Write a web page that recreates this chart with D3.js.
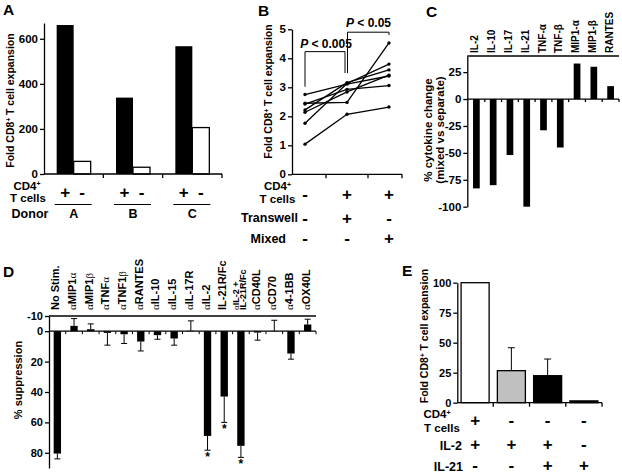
<!DOCTYPE html>
<html><head><meta charset="utf-8">
<script src="https://cdn.jsdelivr.net/npm/d3@7"></script>
<style>
body{margin:0;background:#fff}
svg{font-family:"Liberation Sans",Arial,Helvetica,sans-serif;font-weight:bold}
svg text{font-weight:bold}
</style></head><body>
<svg id="c" width="622" height="475"></svg>
<script>
// ---------- Panel A ----------
const donors = ["A","B","C"];
const aWithCD4 = [661, 339, 567];
const aWithoutCD4 = [56, 30, 206];
const aTicks = [0, 200, 400, 600];
const aSigns = ["+", "-"];
// ---------- Panel B ----------
const bConditions = ["separate", "transwell", "mixed"];
const bSeries = [
  [2.75, 3.11, 3.39],
  [2.45, 2.48, 4.53],
  [2.42, 2.93, 3.06],
  [2.22, 3.16, 3.60],
  [2.14, 2.84, 3.42],
  [1.76, 3.13, 3.80],
  [1.04, 2.07, 2.32]
];
const bTicks = [0, 1, 2, 3, 4, 5];
const bCD4 = ["-", "+", "+"];
const bTranswell = ["-", "+", "-"];
const bMixed = ["-", "-", "+"];
// ---------- Panel C ----------
const cytokines = ["IL-2","IL-10","IL-17","IL-21","TNF-α","TNF-β","MIP1-α","MIP1-β","RANTES"];
const cytokineChange = [-83, -80, -52, -100, -29, -45, 33, 30, 12];
const cTicks = [25, 0, -25, -50, -75, -100];
// ---------- Panel D ----------
const treatments = ["No Stim.","αMIP1α","αMIP1β","αTNFα","αTNF1β","αRANTES","αIL-10","αIL-15","αIL-17R","αIL-2","IL-21R/Fc","αIL-2 +|IL-21R/Fc","αCD40L","αCD70","α4-1BB","αOX40L"];
const suppression = [80.5, -3.5, -1.3, 1.1, 2.0, 6.8, 2.6, 4.8, -0.3, 68.9, 43, 75.4, 0.9, -0.2, 14.7, -4.4];
const suppressionErr = [3.5, 4.8, 3.5, 8.1, 6.1, 6.2, 2.7, 4.4, 6.5, 9.4, 17, 7.6, 5.0, 7.0, 3.7, 3.5];
const dSignificant = ["αIL-2", "IL-21R/Fc", "αIL-2 +|IL-21R/Fc"];
const dTicks = [-10, 0, 20, 40, 60, 80];
// ---------- Panel E ----------
const eConditions = ["CD4+IL2", "IL2", "IL2+IL21", "IL21"];
const eValues = [100, 26.7, 22.5, 1.5];
const eErr = [0, 19.1, 13.9, 0];
const eFill = ["#ffffff", "#c0c0c0", "#000000", "#000000"];
const eTicks = [0, 25, 50, 75, 100];
const eCD4 = ["+", "-", "-", "-"];
const eIL2 = ["+", "+", "+", "-"];
const eIL21 = ["-", "-", "+", "+"];

const svg = d3.select("#c");
const FONT = '"Liberation Sans",Arial,Helvetica,sans-serif';
const SIGN = 17;

function yAxis(scale, ticks, x, fs) {
  const g = svg.append("g").attr("transform", `translate(${x},0)`)
    .call(d3.axisLeft(scale).tickValues(ticks).tickSize(4).tickSizeOuter(0).tickPadding(2).tickFormat(d => String(d)));
  g.attr("font-family", FONT).attr("font-size", fs || 11.5);
  g.selectAll("path,line").attr("stroke", "#000").attr("stroke-width", 1.3);
  return g;
}
function hline(x1, x2, y, w) {
  svg.append("line").attr("x1", x1).attr("x2", x2).attr("y1", y).attr("y2", y).attr("stroke", "#000").attr("stroke-width", w || 1.3);
}
function vline(x, y1, y2, w) {
  svg.append("line").attr("x1", x).attr("x2", x).attr("y1", y1).attr("y2", y2).attr("stroke", "#000").attr("stroke-width", w || 1.3);
}
function txt(x, y, s, fs, anchor) {
  return svg.append("text").attr("x", x).attr("y", y).attr("font-size", fs).attr("text-anchor", anchor || "middle").text(s);
}
function supText(x, y, pre, sup, post, fs, anchor, rotate) {
  const t = svg.append("text").attr("font-size", fs).attr("text-anchor", anchor || "middle");
  if (rotate) t.attr("transform", `translate(${x},${y}) rotate(-90)`); else t.attr("x", x).attr("y", y);
  t.append("tspan").text(pre);
  t.append("tspan").attr("font-size", fs * 0.6).attr("dy", -fs * 0.3).text(sup);
  if (post) t.append("tspan").attr("dy", fs * 0.3).text(post);
  return t;
}
function panelLetter(x, y, s) { txt(x, y, s, 15.5, "start"); }

// ================= Panel A =================
panelLetter(3, 15, "A");
const ax = d3.scaleBand().domain(donors).range([44, 222]);
const asub = d3.scaleBand().domain(aSigns).range([0, ax.bandwidth()]).paddingInner(0).paddingOuter(0.745);
const ay = d3.scaleLinear().domain([0, 670]).range([174, 23]);
svg.append("g").selectAll("rect").data(donors).join("rect")
  .attr("x", d => ax(d) + asub("+")).attr("width", asub.bandwidth())
  .attr("y", (d, i) => ay(aWithCD4[i])).attr("height", (d, i) => ay(0) - ay(aWithCD4[i]))
  .attr("fill", "#000");
svg.append("g").selectAll("rect").data(donors).join("rect")
  .attr("x", d => ax(d) + asub("-")).attr("width", asub.bandwidth())
  .attr("y", (d, i) => ay(aWithoutCD4[i])).attr("height", (d, i) => ay(0) - ay(aWithoutCD4[i]))
  .attr("fill", "#fff").attr("stroke", "#000").attr("stroke-width", 1.3);
yAxis(ay, aTicks, 44);
hline(44, ax.range()[1], ay(0));
donors.forEach(d => vline(ax(d) + ax.step(), ay(0), ay(0) + 4));
supText(27, 189.5, "CD4", "+", null, 11.5);
txt(28, 202, "T cells", 11.5);
donors.forEach(d => {
  aSigns.forEach(s => txt(ax(d) + asub(s) + asub.bandwidth() / 2, 198, s, SIGN));
  hline(ax(d) + asub("+") - 2, ax(d) + asub("-") + asub.bandwidth() + 1, 204.5, 1);
  txt(ax(d) + ax.bandwidth() / 2, 217.5, d, 12.5);
});
txt(30, 217.5, "Donor", 12.5);
supText(14, 100.5, "Fold CD8", "+", " T cell expansion", 10.5, "middle", true);

// ================= Panel B =================
panelLetter(258, 16, "B");
const bx = d3.scalePoint().domain(bConditions).range([292, 402]).padding(0.31);
const by = d3.scaleLinear().domain([0, 5]).range([174.3, 29.3]);
const bline = d3.line().x((v, i) => bx(bConditions[i])).y(v => by(v));
svg.append("g").selectAll("path").data(bSeries).join("path")
  .attr("d", bline).attr("fill", "none").attr("stroke", "#000").attr("stroke-width", 1.3);
svg.append("g").selectAll("g").data(bSeries).join("g").selectAll("circle")
  .data(d => d).join("circle")
  .attr("cx", (v, i) => bx(bConditions[i])).attr("cy", v => by(v)).attr("r", 1.7).attr("fill", "#000");
yAxis(by, bTicks, 292);
hline(292, 402, by(0));
[0, 1].forEach(i => vline((bx(bConditions[i]) + bx(bConditions[i + 1])) / 2, by(0), by(0) + 4));
vline(402, by(0), by(0) + 4);
// significance brackets
const xs = bx("separate"), xt = bx("transwell"), xm = bx("mixed");
svg.append("path").attr("d", `M${xs},${by(3.02)}V${by(4.23)}H${xt - 2}V${by(3.49)}`).attr("fill", "none").attr("stroke", "#000").attr("stroke-width", 1);
svg.append("path").attr("d", `M${xt + 0.5},${by(3.49)}V${by(4.9)}H${xm}V${by(4.8)}`).attr("fill", "none").attr("stroke", "#000").attr("stroke-width", 1);
function pText(x, y, rest) {
  const t = svg.append("text").attr("x", x).attr("y", y).attr("font-size", 12).attr("text-anchor", "middle");
  t.append("tspan").attr("font-style", "italic").text("P");
  t.append("tspan").text(rest);
}
pText((xs + xt) / 2, 48, " < 0.005");
pText((xt + xm) / 2 + 0.5, 27, " < 0.05");
supText(277.5, 190, "CD4", "+", null, 11.5);
txt(277.5, 202.5, "T cells", 11.5);
txt(298, 221.5, "Transwell", 12.5, "end");
txt(286, 242.5, "Mixed", 12.5, "end");
bConditions.forEach((c, i) => {
  txt(bx(c), 199.5, bCD4[i], SIGN);
  txt(bx(c), 223.5, bTranswell[i], SIGN);
  txt(bx(c), 244, bMixed[i], SIGN);
});
supText(272, 91.5, "Fold CD8", "+", " T cell expansion", 10.5, "middle", true);

// ================= Panel C =================
panelLetter(426, 17, "C");
const cx = d3.scaleBand().domain(cytokines).range([468, 619]).paddingInner(0.6).paddingOuter(0.3);
const cy = d3.scaleLinear().domain([-100, 40]).range([206.7, 56]);
svg.append("g").selectAll("rect").data(cytokines).join("rect")
  .attr("x", d => cx(d)).attr("width", cx.bandwidth())
  .attr("y", (d, i) => cy(Math.max(0, cytokineChange[i])))
  .attr("height", (d, i) => Math.abs(cy(cytokineChange[i]) - cy(0)))
  .attr("fill", "#000");
yAxis(cy, cTicks, 467.3);
hline(467.3, 619, cy(40));
hline(467.3, 619, cy(0));
cytokines.forEach(d => vline(cx(d) + cx.step() * 0.7, cy(0), cy(0) + 3));
cytokines.forEach(d => {
  svg.append("text").attr("transform", `translate(${cx(d) + cx.bandwidth() / 2 + 2},${cy(40) - 3}) rotate(-90)`)
    .attr("font-size", 10).attr("text-anchor", "start").text(d);
});
svg.append("text").attr("transform", "translate(432,130) rotate(-90)").attr("font-size", 11.5).attr("text-anchor", "middle").text("% cytokine change");
svg.append("text").attr("transform", "translate(444,130) rotate(-90)").attr("font-size", 11.5).attr("text-anchor", "middle").text("(mixed vs separate)");

// ================= Panel D =================
panelLetter(3, 277, "D");
const dx = d3.scaleBand().domain(treatments).range([49, 316]).paddingInner(0.56).paddingOuter(0.28);
const dy = d3.scaleLinear().domain([-10, 90]).range([316, 468]);
svg.append("g").selectAll("rect").data(treatments).join("rect")
  .attr("x", d => dx(d)).attr("width", dx.bandwidth())
  .attr("y", (d, i) => dy(Math.min(0, suppression[i])))
  .attr("height", (d, i) => Math.abs(dy(suppression[i]) - dy(0)))
  .attr("fill", "#000");
// error bars
treatments.forEach((d, i) => {
  const c = dx(d) + dx.bandwidth() / 2;
  const v = suppression[i], e = suppressionErr[i] * (v < 0 ? -1 : 1);
  vline(c, dy(v), dy(v + e), 1);
  hline(c - 3, c + 3, dy(v + e), 1);
  if (dSignificant.includes(d)) txt(c, dy(v + e) + 11, "*", 12);
});
yAxis(dy, dTicks, 49, 11);
hline(49, 316, dy(-10));
hline(49, 316, dy(0));
treatments.forEach(d => vline(dx(d) + dx.step() * 0.72, dy(0), dy(0) + 3, 1));
treatments.forEach(d => {
  const c = dx(d) + dx.bandwidth() / 2;
  const lines = d.split("|");
  lines.forEach((ln, k) => {
    const fs = lines.length > 1 ? 9 : 11;
    const off = lines.length > 1 ? (k === 0 ? -1.5 : 5.5) : 2;
    const t = svg.append("text").attr("transform", `translate(${c + off},310) rotate(-90)`)
      .attr("font-size", fs).attr("text-anchor", "start");
    // alpha rendered in a lighter serif face as in the original
    ln.split(/(α|β)/).filter(s => s.length).forEach(part => {
      const sp = t.append("tspan").text(part);
      if (part === "α" || part === "β") sp.attr("font-family", '"Liberation Serif","DejaVu Serif",serif').attr("font-weight", "normal");
    });
  });
});
svg.append("text").attr("transform", "translate(22,380) rotate(-90)").attr("font-size", 11).attr("text-anchor", "middle").text("% suppression");

// ================= Panel E =================
panelLetter(402, 276, "E");
const ex = d3.scaleBand().domain(eConditions).range([457, 602]).paddingInner(0.227).paddingOuter(0.113);
const ey = d3.scaleLinear().domain([0, 100]).range([402.7, 282.7]);
eConditions.forEach((d, i) => {
  const c = ex(d) + ex.bandwidth() / 2;
  if (eErr[i] > 0) {
    vline(c, ey(eValues[i]), ey(eValues[i] + eErr[i]), 1);
    hline(c - 3.5, c + 3.5, ey(eValues[i] + eErr[i]), 1);
  }
});
svg.append("g").selectAll("rect").data(eConditions).join("rect")
  .attr("x", d => ex(d)).attr("width", ex.bandwidth())
  .attr("y", (d, i) => ey(eValues[i])).attr("height", (d, i) => ey(0) - ey(eValues[i]))
  .attr("fill", (d, i) => eFill[i]).attr("stroke", "#000").attr("stroke-width", 1.3);
yAxis(ey, eTicks, 457.3, 11);
hline(457.3, 602, ey(0));
eConditions.forEach(d => vline(ex(d) - ex.step() * 0.113 + ex.step(), ey(0), ey(0) + 4));
supText(437, 418, "CD4", "+", null, 11.5);
txt(442, 432, "T cells", 11.5);
txt(462, 449.5, "IL-2", 12.5, "end");
txt(463, 470.5, "IL-21", 12.5, "end");
eConditions.forEach((d, i) => {
  const c = ex(d) + ex.bandwidth() / 2;
  txt(c, 426, eCD4[i], SIGN);
  txt(c, 449.5, eIL2[i], SIGN);
  txt(c, 471, eIL21[i], SIGN);
});
supText(428, 336, "Fold CD8", "+", " T cell expansion", 10.5, "middle", true);
</script>
</body></html>
